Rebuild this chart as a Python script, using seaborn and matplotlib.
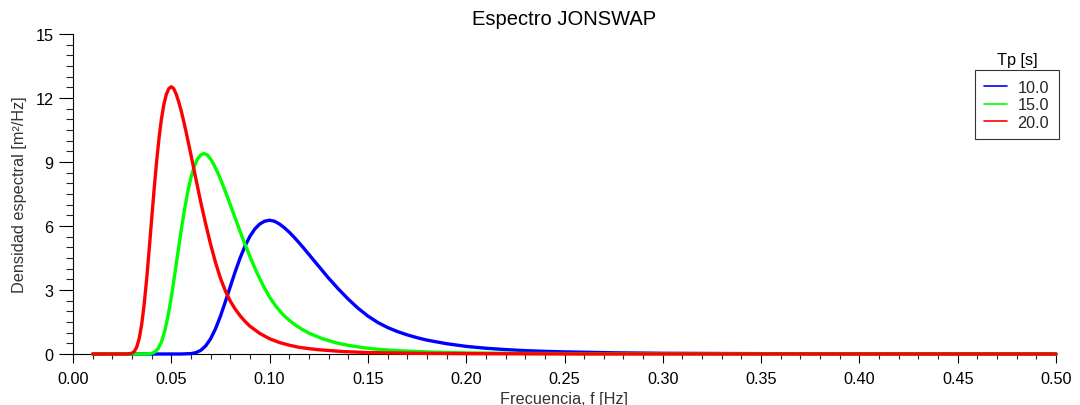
import matplotlib
matplotlib.use("Agg")
import matplotlib.pyplot as plt
from matplotlib.lines import Line2D
from matplotlib.ticker import MultipleLocator, FormatStrFormatter
import pandas as pd
import seaborn as sns

# Peak periods and their line colours
periods = ["10.0", "15.0", "20.0"]
colors = ["#0000FF", "#00FF00", "#FF0000"]

# Tp = 10 s
freq_tp10 = [0.01, 0.055, 0.06, 0.0625, 0.065, 0.0675, 0.07, 0.0725, 0.075, 0.0775,
             0.08, 0.0825, 0.085, 0.0875, 0.09, 0.0925, 0.095, 0.0975, 0.10, 0.1025,
             0.105, 0.1075, 0.11, 0.1125, 0.115, 0.1175, 0.12, 0.125, 0.13, 0.135,
             0.14, 0.145, 0.15, 0.155, 0.16, 0.165, 0.17, 0.175, 0.18, 0.19,
             0.20, 0.21, 0.22, 0.23, 0.24, 0.25, 0.275, 0.30, 0.35, 0.40,
             0.45, 0.50]
dens_tp10 = [0.0, 0.001, 0.018, 0.063, 0.172, 0.379, 0.715, 1.185, 1.774, 2.452,
             3.160, 3.856, 4.502, 5.060, 5.518, 5.862, 6.094, 6.226, 6.270, 6.223,
             6.094, 5.919, 5.709, 5.471, 5.214, 4.944, 4.668, 4.110, 3.558, 3.047,
             2.571, 2.144, 1.778, 1.480, 1.241, 1.053, 0.897, 0.765, 0.652, 0.483,
             0.357, 0.270, 0.207, 0.157, 0.125, 0.100, 0.056, 0.034, 0.016, 0.008,
             0.005, 0.003]

# Tp = 15 s
freq_tp15 = [0.01, 0.03667, 0.04, 0.04167, 0.04333, 0.045, 0.04667, 0.04833, 0.05, 0.05167,
             0.05333, 0.055, 0.05667, 0.05833, 0.06, 0.06167, 0.06333, 0.065, 0.06667, 0.06833,
             0.07, 0.07167, 0.07333, 0.075, 0.07667, 0.07833, 0.08, 0.08333, 0.08667, 0.09,
             0.09333, 0.09667, 0.10, 0.10333, 0.10667, 0.11, 0.11333, 0.11667, 0.12, 0.12667,
             0.13333, 0.14, 0.14667, 0.15333, 0.16, 0.16667, 0.18333, 0.20, 0.23333, 0.26667,
             0.33333, 0.40, 0.50]
dens_tp15 = [0.0, 0.001, 0.027, 0.095, 0.258, 0.569, 1.072, 1.777, 2.660, 3.675,
             4.738, 5.781, 6.749, 7.586, 8.272, 8.789, 9.137, 9.334, 9.400, 9.330,
             9.137, 8.874, 8.559, 8.202, 7.816, 7.412, 6.998, 6.162, 5.335, 4.568,
             3.854, 3.215, 2.665, 2.218, 1.861, 1.579, 1.344, 1.147, 0.978, 0.724,
             0.536, 0.404, 0.310, 0.235, 0.188, 0.150, 0.085, 0.052, 0.024, 0.012,
             0.004, 0.002, 0.0005]

# Tp = 20 s
freq_tp20 = [0.01, 0.0275, 0.03, 0.03125, 0.0325, 0.03375, 0.035, 0.03625, 0.0375, 0.03875,
             0.04, 0.04125, 0.0425, 0.04375, 0.045, 0.04625, 0.0475, 0.04875, 0.05, 0.05125,
             0.0525, 0.05375, 0.055, 0.05625, 0.0575, 0.05875, 0.06, 0.0625, 0.065, 0.0675,
             0.07, 0.0725, 0.075, 0.0775, 0.08, 0.0825, 0.085, 0.0875, 0.09, 0.095,
             0.10, 0.105, 0.11, 0.115, 0.12, 0.125, 0.1375, 0.15, 0.175, 0.20,
             0.25, 0.30, 0.40, 0.50]
dens_tp20 = [0.0, 0.001, 0.036, 0.127, 0.343, 0.758, 1.428, 2.368, 3.546, 4.899,
             6.315, 7.706, 8.997, 10.112, 11.026, 11.716, 12.179, 12.442, 12.530, 12.436,
             12.179, 11.828, 11.408, 10.932, 10.419, 9.880, 9.329, 8.213, 7.111, 6.090,
             5.137, 4.285, 3.552, 2.957, 2.481, 2.105, 1.792, 1.529, 1.303, 0.965,
             0.714, 0.539, 0.413, 0.313, 0.251, 0.200, 0.113, 0.069, 0.031, 0.016,
             0.005, 0.002, 0.0005, 0.0002]

sns.set_style("ticks")
plt.rcParams["font.family"] = ["Liberation Sans", "DejaVu Sans"]

frames = []
for tp, f, s in zip(periods, [freq_tp10, freq_tp15, freq_tp20],
                    [dens_tp10, dens_tp15, dens_tp20]):
    frames.append(pd.DataFrame({"f": f, "S": s, "Tp": tp}))
df = pd.concat(frames, ignore_index=True)

fig = plt.figure(figsize=(10.8, 4.06), dpi=100)
ax = fig.add_axes([73 / 1080, 1 - 355 / 406, 983 / 1080, 320 / 406])

sns.lineplot(data=df, x="f", y="S", hue="Tp", hue_order=periods, palette=colors,
             estimator=None, sort=False, lw=2.4, legend=False, ax=ax,
             clip_on=False, zorder=3)

ax.set_xlim(0, 0.5)
ax.set_ylim(0, 15)
ax.xaxis.set_major_locator(MultipleLocator(0.05))
ax.xaxis.set_minor_locator(MultipleLocator(0.01))
ax.xaxis.set_major_formatter(FormatStrFormatter("%.2f"))
ax.yaxis.set_major_locator(MultipleLocator(3))
ax.yaxis.set_minor_locator(MultipleLocator(0.5))

ax.tick_params(axis="x", which="major", direction="out", length=6.5, width=0.8,
               pad=5.5, labelsize=11.7, colors="black")
ax.tick_params(axis="x", which="minor", direction="out", length=3.3, width=0.8)
ax.tick_params(axis="y", which="major", direction="out", length=10, width=0.8,
               pad=4, labelsize=11.7, colors="black")
ax.tick_params(axis="y", which="minor", direction="out", length=5, width=0.8)

sns.despine(ax=ax)
for side in ("left", "bottom"):
    ax.spines[side].set_color("black")
    ax.spines[side].set_linewidth(0.8)

ax.set_xlabel("Frecuencia, f [Hz]", fontsize=11.7, color="#333333")
ax.set_ylabel("Densidad espectral [m²/Hz]", fontsize=11.7, color="#333333")
ax.xaxis.set_label_coords(0.5, -0.1156)
ax.yaxis.set_label_coords(-0.0473, 0.5)
ax.set_title("Espectro JONSWAP", fontsize=14.5, color="black", pad=7)

handles = [Line2D([0], [0], color=c, lw=1.2) for c in colors]
leg = ax.legend(handles, periods, loc="upper right",
                bbox_to_anchor=(1059 / 1080, 1 - 71 / 406),
                bbox_transform=fig.transFigure, borderaxespad=0,
                fontsize=11.7, frameon=True, fancybox=False,
                handlelength=1.4, handletextpad=0.65, borderpad=0.6,
                labelspacing=0.15)
leg.get_frame().set_edgecolor("black")
leg.get_frame().set_linewidth(0.8)
leg.get_frame().set_facecolor("white")
fig.text(1017 / 1080, 1 - 60 / 406, "Tp [s]", ha="center", va="center",
         fontsize=11.7, color="black")

fig.savefig("out.png", dpi=100)
